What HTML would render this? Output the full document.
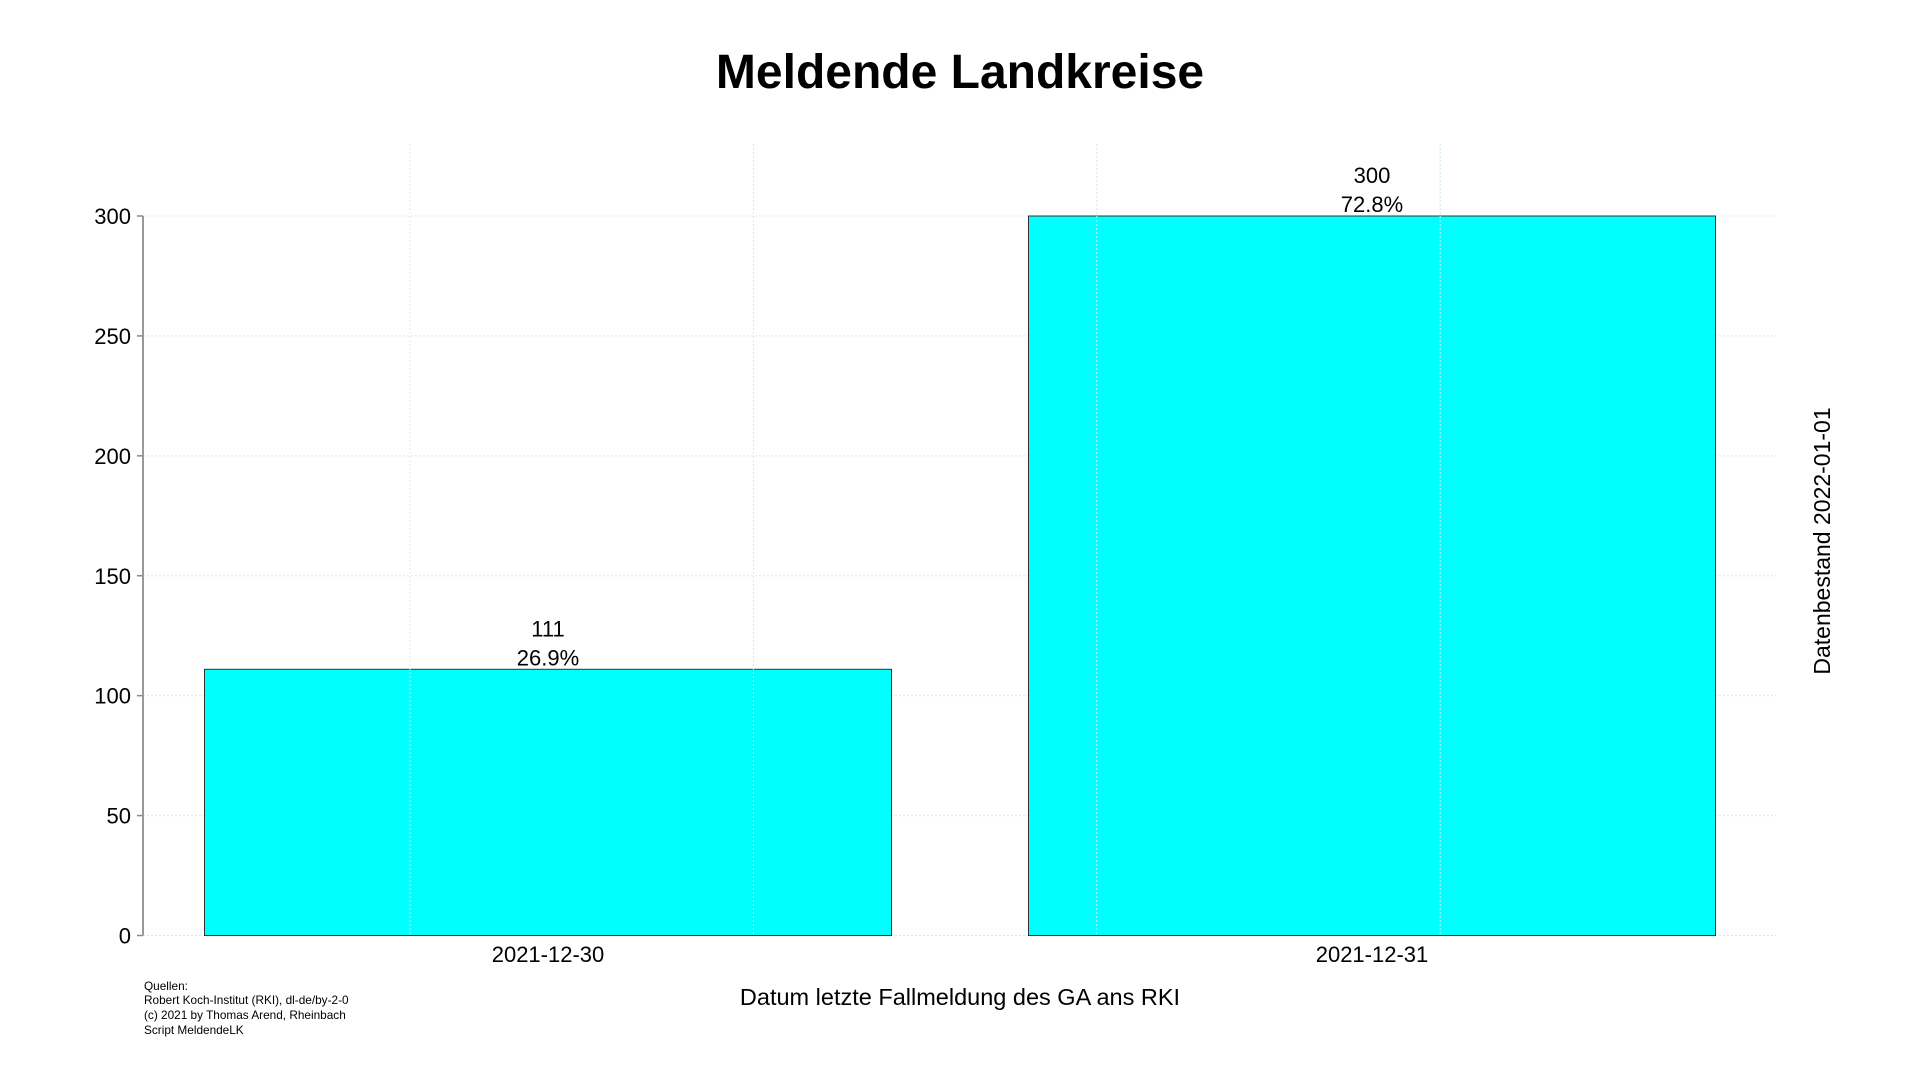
<!DOCTYPE html>
<html><head><meta charset="utf-8"><style>
body{margin:0;background:#fff;}
svg{display:block;font-family:"Liberation Sans",Arial,sans-serif;}
</style></head><body>
<svg id="chart" width="1920" height="1080" viewBox="0 0 1920 1080">
<text x="960" y="88" text-anchor="middle" font-size="48" font-weight="bold">Meldende Landkreise</text>
<g id="grid"></g>
<g id="bars"></g>
<g id="yaxis"></g>
<g id="xaxis"></g>
<text x="960" y="1005" text-anchor="middle" font-size="23.5">Datum letzte Fallmeldung des GA ans RKI</text>
<text transform="translate(1830,541) rotate(-90)" text-anchor="middle" font-size="23">Datenbestand 2022-01-01</text>
<g font-size="11.8">
<text x="144" y="990">Quellen:</text>
<text x="144" y="1004">Robert Koch-Institut (RKI), dl-de/by-2-0</text>
<text x="144" y="1019">(c) 2021 by Thomas Arend, Rheinbach</text>
<text x="144" y="1034">Script MeldendeLK</text>
</g>
</svg>
<script>
const categories = ["2021-12-30", "2021-12-31"];
const values = [111, 300];
const percents = ["26.9%", "72.8%"];
const yTicks = [0, 50, 100, 150, 200, 250, 300];

const NS = "http://www.w3.org/2000/svg";
const plotLeft = 143, plotRight = 1776, plotTop = 144;
const y0 = 935.5, yPerUnit = (935.5 - 216) / 300;
const yScale = v => y0 - v * yPerUnit;
const xCenter = i => 548 + i * 824;
const barHalf = 343.5;

function mk(tag, attrs, parent) {
  const e = document.createElementNS(NS, tag);
  for (const k in attrs) e.setAttribute(k, attrs[k]);
  parent.appendChild(e);
  return e;
}
const grid = document.getElementById('grid');
const bars = document.getElementById('bars');
const yaxis = document.getElementById('yaxis');
const xaxis = document.getElementById('xaxis');

yTicks.forEach(t => {
  const y = yScale(t);
  const gl = mk('line', {x1: plotLeft, x2: plotRight, y1: y, y2: y, stroke: '#e4e4e4', 'stroke-dasharray': '2,2', 'stroke-width': 1}, grid);
  
  
  const tk = mk('line', {x1: plotLeft - 6, x2: plotLeft, y1: y, y2: y, stroke: '#888', 'stroke-width': 1.5}, yaxis);
  
  
  const lb = mk('text', {x: plotLeft - 12, y: y + 8, 'text-anchor': 'end', 'font-size': 22}, yaxis);
  lb.textContent = t;
  
  
});
const vgrid = [];
for (let k = 0; k < 4; k++) vgrid.push(410 + k * 343.4);
vgrid.forEach(x => {
  const vl = mk('line', {x1: x, x2: x, y1: plotTop, y2: y0, stroke: '#e4e4e4', 'stroke-dasharray': '2,2', 'stroke-width': 1}, grid);
  
  
});
const ax = mk('line', {x1: plotLeft, x2: plotLeft, y1: yScale(300), y2: y0, stroke: '#999', 'stroke-width': 2}, yaxis);



categories.forEach((c, i) => {
  const cx = xCenter(i), top = yScale(values[i]);
  const r = mk('rect', {x: cx - barHalf, y: top, width: barHalf * 2, height: y0 - top, fill: '#00ffff', stroke: '#333', 'stroke-width': 1}, bars);
  
  
  const t1 = mk('text', {x: cx, y: top - 33, 'text-anchor': 'middle', 'font-size': 22}, bars);
  t1.textContent = values[i];
  
  
  const t2 = mk('text', {x: cx, y: top - 4, 'text-anchor': 'middle', 'font-size': 22}, bars);
  t2.textContent = percents[i];
  
  
  const xl = mk('text', {x: cx, y: 962, 'text-anchor': 'middle', 'font-size': 22}, xaxis);
  xl.textContent = c;
  
  
});
vgrid.forEach(x => {
  const c = mk('line', {x1: x, x2: x, y1: plotTop, y2: y0, stroke: '#d0eeee', 'stroke-dasharray': '2,2', 'stroke-width': 1}, bars);
  
  
});
</script>
</body></html>
